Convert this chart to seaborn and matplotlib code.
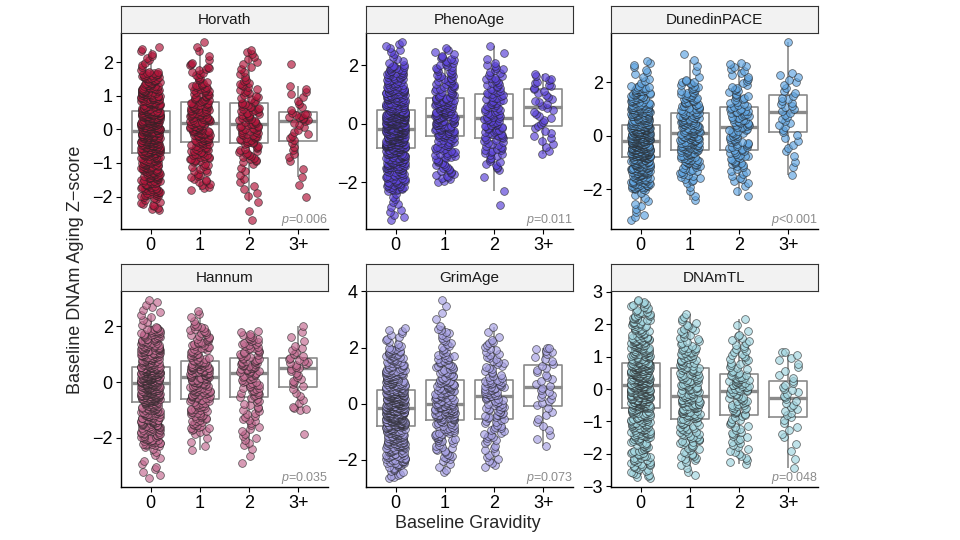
import numpy as np
import pandas as pd
import matplotlib
matplotlib.use("Agg")
import matplotlib.pyplot as plt
from matplotlib.ticker import MultipleLocator
import seaborn as sns

# clocks in facet order (row by row)
clocks = ["Horvath", "PhenoAge", "DunedinPACE", "Hannum", "GrimAge", "DNAmTL"]
groups = ["0", "1", "2", "3+"]
group_sizes = [560, 220, 125, 40]
p_labels = ["=0.006", "=0.011", "<0.001", "=0.035", "=0.073", "=0.048"]
point_colors = ["#B3173C", "#5C44D8", "#62A6E2", "#C46C92", "#A7A1E4", "#A2D6E0"]
tick_steps = [1, 2, 2, 2, 2, 1]

# z-score distribution of each gravidity group at
# these cumulative proportions: min, 2%, 10%, Q1, median, Q3, 90%, 98%, max
probs = [0.0, 0.02, 0.10, 0.25, 0.50, 0.75, 0.90, 0.98, 1.0]
horvath = [
    [-2.40, -2.00, -1.45, -0.70, -0.05, 0.55, 1.20, 1.70, 2.45],
    [-1.80, -1.60, -0.95, -0.38, 0.18, 0.80, 1.35, 2.00, 2.60],
    [-2.70, -2.05, -1.00, -0.42, 0.15, 0.78, 1.45, 2.20, 2.35],
    [-2.00, -1.70, -0.95, -0.33, 0.27, 0.50, 1.05, 1.30, 1.95],
]
phenoage = [
    [-3.30, -2.30, -1.55, -0.82, -0.17, 0.46, 1.25, 2.00, 2.80],
    [-2.00, -1.80, -1.20, -0.43, 0.25, 0.88, 1.70, 2.30, 2.60],
    [-2.80, -1.60, -1.10, -0.49, 0.19, 1.00, 1.60, 2.10, 2.65],
    [-1.05, -0.95, -0.60, -0.08, 0.57, 1.19, 1.50, 1.65, 1.70],
]
dunedinpace = [
    [-3.15, -2.00, -1.45, -0.79, -0.19, 0.41, 1.15, 1.85, 2.80],
    [-2.40, -1.70, -1.10, -0.53, 0.09, 0.84, 1.55, 2.10, 3.05],
    [-2.25, -1.80, -1.15, -0.55, 0.31, 1.06, 1.85, 2.60, 2.70],
    [-1.45, -1.20, -0.60, 0.13, 0.90, 1.50, 2.10, 2.35, 3.50],
]
hannum = [
    [-3.45, -2.30, -1.60, -0.72, -0.02, 0.55, 1.30, 1.95, 2.95],
    [-2.45, -1.80, -1.30, -0.59, 0.18, 0.76, 1.50, 2.05, 2.55],
    [-2.90, -2.30, -1.50, -0.52, 0.31, 0.86, 1.40, 1.70, 1.85],
    [-1.85, -1.00, -0.90, -0.17, 0.50, 0.87, 1.30, 1.85, 2.00],
]
grimage = [
    [-2.65, -2.20, -1.55, -0.80, -0.16, 0.48, 1.20, 2.00, 2.70],
    [-2.45, -2.00, -1.30, -0.56, 0.00, 0.84, 1.75, 2.70, 3.70],
    [-2.25, -2.10, -1.30, -0.54, 0.26, 0.86, 1.70, 2.30, 2.75],
    [-1.50, -1.30, -0.80, -0.06, 0.60, 1.37, 1.85, 2.00, 2.00],
]
dnamtl = [
    [-2.75, -2.40, -1.50, -0.58, 0.13, 0.81, 1.60, 2.40, 2.75],
    [-2.65, -2.20, -1.65, -0.92, -0.23, 0.66, 1.30, 2.00, 2.30],
    [-2.30, -2.15, -1.60, -0.79, -0.05, 0.45, 1.20, 1.70, 2.15],
    [-2.45, -2.20, -1.50, -0.87, -0.29, 0.25, 0.90, 1.15, 1.15],
]
clock_quantiles = [horvath, phenoage, dunedinpace, hannum, grimage, dnamtl]

rows = []
for clock, quants in zip(clocks, clock_quantiles):
    for grp, n, q in zip(groups, group_sizes, quants):
        ranks = np.linspace(0, 1, n)
        for v in np.interp(ranks, probs, q):
            rows.append({"clock": clock, "gravidity": grp, "zscore": v})
df = pd.DataFrame(rows)

sns.set_style("white")
plt.rcParams["font.family"] = ["Liberation Sans", "DejaVu Sans"]
plt.rcParams["mathtext.fontset"] = "custom"
plt.rcParams["mathtext.it"] = "Liberation Sans:italic"

W, H = 960, 540
fig = plt.figure(figsize=(9.6, 5.4), dpi=100)

col_left = [121, 366, 611]
row_top = [6, 264]
ax_w = 207
strip_h = 27
ax_h = 196

for i, clock in enumerate(clocks):
    r, c = divmod(i, 3)
    x0 = col_left[c]
    y_strip = row_top[r]
    y_ax = y_strip + strip_h
    ax = fig.add_axes([x0 / W, 1 - (y_ax + ax_h) / H, ax_w / W, ax_h / H])
    sax = fig.add_axes([x0 / W, 1 - (y_ax) / H, ax_w / W, strip_h / H])

    sub = df[df["clock"] == clock]
    sns.stripplot(data=sub, x="gravidity", y="zscore", order=groups, ax=ax,
                  color=point_colors[i], jitter=0.2, size=5.6, alpha=0.68,
                  edgecolor="#222222", linewidth=0.55)
    sns.boxplot(data=sub, x="gravidity", y="zscore", order=groups, ax=ax,
                fill=False, color="#8A8A8A", width=0.77, linewidth=1.2,
                showfliers=False, showcaps=False,
                medianprops={"linewidth": 2.4})

    ax.set_xlim(-0.6, 3.6)
    ax.yaxis.set_major_locator(MultipleLocator(tick_steps[i]))
    ax.set_xlabel("")
    ax.set_ylabel("")
    for side in ["top", "right"]:
        ax.spines[side].set_visible(False)
    for side in ["left", "bottom"]:
        ax.spines[side].set_color("black")
        ax.spines[side].set_linewidth(1.0)
    ax.tick_params(axis="both", which="major", length=3.5, width=0.8,
                   color="black", labelsize=13, labelcolor="black",
                   left=True, bottom=True, pad=2.5)
    ax.text(1.0, 0.005, r"$p$" + p_labels[i], transform=ax.transAxes,
            ha="right", va="bottom", fontsize=9, color="#8c8c8c")

    # facet strip
    sax.set_facecolor("#F2F2F2")
    sax.set_xticks([])
    sax.set_yticks([])
    for sp in sax.spines.values():
        sp.set_visible(True)
        sp.set_color("#333333")
        sp.set_linewidth(0.8)
    sax.text(0.5, 0.48, clock, transform=sax.transAxes, ha="center",
             va="center", fontsize=11, color="#1a1a1a")

fig.text(75 / W, 0.5, "Baseline DNAm Aging Z\u2212score", rotation=90,
         ha="center", va="center", fontsize=13)
fig.text(468 / W, 1 - 523 / H, "Baseline Gravidity", ha="center",
         va="center", fontsize=13)

fig.savefig("out.png", dpi=100)
